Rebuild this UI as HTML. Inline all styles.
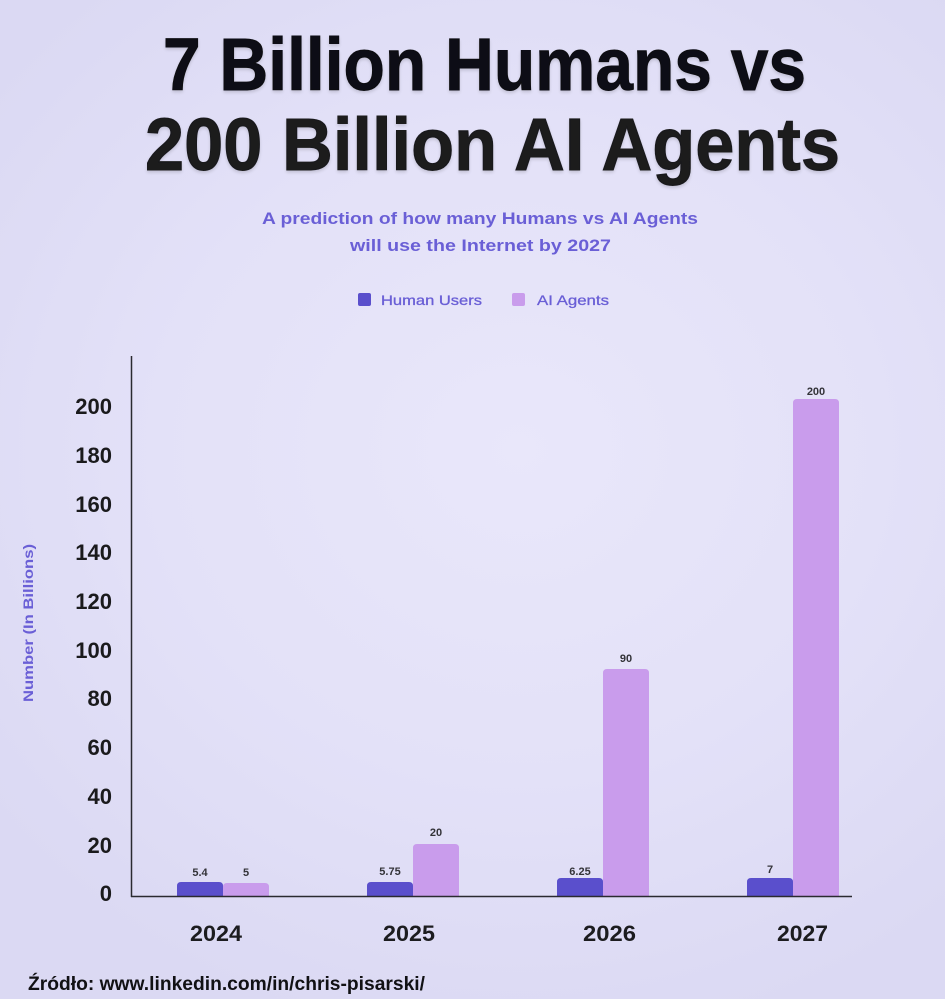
<!DOCTYPE html>
<html>
<head>
<meta charset="utf-8">
<style>
html,body{margin:0;padding:0;}
body{width:945px;height:999px;overflow:hidden;
background:radial-gradient(ellipse 70% 60% at 55% 45%, #e9e7fa 0%, #e3e1f8 55%, #dbd9f3 100%);}
svg{display:block;}
text{font-family:"Liberation Sans",sans-serif;}
</style>
</head>
<body>
<svg width="945" height="999" viewBox="0 0 945 999" xmlns="http://www.w3.org/2000/svg">
  <defs>
    <filter id="sh" x="-5%" y="-20%" width="110%" height="150%">
      <feGaussianBlur in="SourceAlpha" stdDeviation="1.5"/>
      <feOffset dx="0" dy="2" result="b"/>
      <feComponentTransfer><feFuncA type="linear" slope="0.15"/></feComponentTransfer>
      <feMerge><feMergeNode/><feMergeNode in="SourceGraphic"/></feMerge>
    </filter>
  </defs>
  <!-- Title -->
  <g filter="url(#sh)">
  <text x="163" y="90" font-size="74" font-weight="bold" fill="#0f0f12" stroke="#0f0f12" stroke-width="0.9" textLength="643" lengthAdjust="spacingAndGlyphs">7 Billion Humans vs</text>
  <text x="145" y="170" font-size="74" font-weight="bold" fill="#1a1a1d" stroke="#1a1a1d" stroke-width="0.9" textLength="695" lengthAdjust="spacingAndGlyphs">200 Billion AI Agents</text>
  </g>

  <!-- Subtitle -->
  <text x="262" y="224" font-size="17" font-weight="bold" fill="#6a5fd6" textLength="436" lengthAdjust="spacingAndGlyphs">A prediction of how many Humans vs AI Agents</text>
  <text x="350" y="251" font-size="17" font-weight="bold" fill="#6a5fd6" textLength="261" lengthAdjust="spacingAndGlyphs">will use the Internet by 2027</text>

  <!-- Legend -->
  <rect x="358" y="293" width="13" height="13" rx="2" fill="#5a4fcc"/>
  <text x="381" y="305" font-size="14" fill="#6a5fd6" stroke="#6a5fd6" stroke-width="0.3" textLength="101" lengthAdjust="spacingAndGlyphs">Human Users</text>
  <rect x="512" y="293" width="13" height="13" rx="2" fill="#c99cec"/>
  <text x="537" y="305" font-size="14" fill="#6a5fd6" stroke="#6a5fd6" stroke-width="0.3" textLength="72" lengthAdjust="spacingAndGlyphs">AI Agents</text>

  <!-- Y axis title -->
  <text transform="translate(33,623) rotate(-90)" text-anchor="middle" font-size="14" font-weight="bold" fill="#6a5fd6" textLength="158" lengthAdjust="spacingAndGlyphs">Number (In Billions)</text>

  <!-- Y tick labels -->
  <g font-size="22" font-weight="bold" fill="#1a1a1c" text-anchor="end">
    <text x="112" y="414">200</text>
    <text x="112" y="463">180</text>
    <text x="112" y="512">160</text>
    <text x="112" y="560">140</text>
    <text x="112" y="609">120</text>
    <text x="112" y="658">100</text>
    <text x="112" y="706">80</text>
    <text x="112" y="755">60</text>
    <text x="112" y="804">40</text>
    <text x="112" y="853">20</text>
    <text x="112" y="901">0</text>
  </g>

  <!-- Bars -->
  <g>
    <path d="M177,896 V886 Q177,882 181,882 H219 Q223,882 223,886 V896 Z" fill="#5a4fcc"/>
    <path d="M223,896 V887 Q223,883 227,883 H265 Q269,883 269,887 V896 Z" fill="#c99cec"/>
    <path d="M367,896 V886 Q367,882 371,882 H409 Q413,882 413,886 V896 Z" fill="#5a4fcc"/>
    <path d="M413,896 V848 Q413,844 417,844 H455 Q459,844 459,848 V896 Z" fill="#c99cec"/>
    <path d="M557,896 V882 Q557,878 561,878 H599 Q603,878 603,882 V896 Z" fill="#5a4fcc"/>
    <path d="M603,896 V673 Q603,669 607,669 H645 Q649,669 649,673 V896 Z" fill="#c99cec"/>
    <path d="M747,896 V882 Q747,878 751,878 H789 Q793,878 793,882 V896 Z" fill="#5a4fcc"/>
    <path d="M793,896 V403 Q793,399 797,399 H835 Q839,399 839,403 V896 Z" fill="#c99cec"/>
  </g>

  <!-- Axes -->
  <line x1="131.5" y1="356" x2="131.5" y2="897" stroke="#2a2a30" stroke-width="1.5"/>
  <line x1="131" y1="896.5" x2="852" y2="896.5" stroke="#2a2a30" stroke-width="1.5"/>

  <!-- Value labels -->
  <g font-size="11" font-weight="bold" fill="#333338" text-anchor="middle">
    <text x="200" y="876">5.4</text>
    <text x="246" y="876">5</text>
    <text x="390" y="875">5.75</text>
    <text x="436" y="836">20</text>
    <text x="580" y="875">6.25</text>
    <text x="626" y="662">90</text>
    <text x="770" y="873">7</text>
    <text x="816" y="395">200</text>
  </g>

  <!-- Year labels -->
  <g font-size="22" font-weight="bold" fill="#1c1c1f">
    <text x="190" y="941" textLength="52" lengthAdjust="spacingAndGlyphs">2024</text>
    <text x="383" y="941" textLength="52" lengthAdjust="spacingAndGlyphs">2025</text>
    <text x="583" y="941" textLength="53" lengthAdjust="spacingAndGlyphs">2026</text>
    <text x="777" y="941" textLength="51" lengthAdjust="spacingAndGlyphs">2027</text>
  </g>

  <!-- Footer -->
  <text x="28" y="990" font-size="19" font-weight="bold" fill="#111114" textLength="397" lengthAdjust="spacingAndGlyphs">Źródło: www.linkedin.com/in/chris-pisarski/</text>
</svg>
</body>
</html>
